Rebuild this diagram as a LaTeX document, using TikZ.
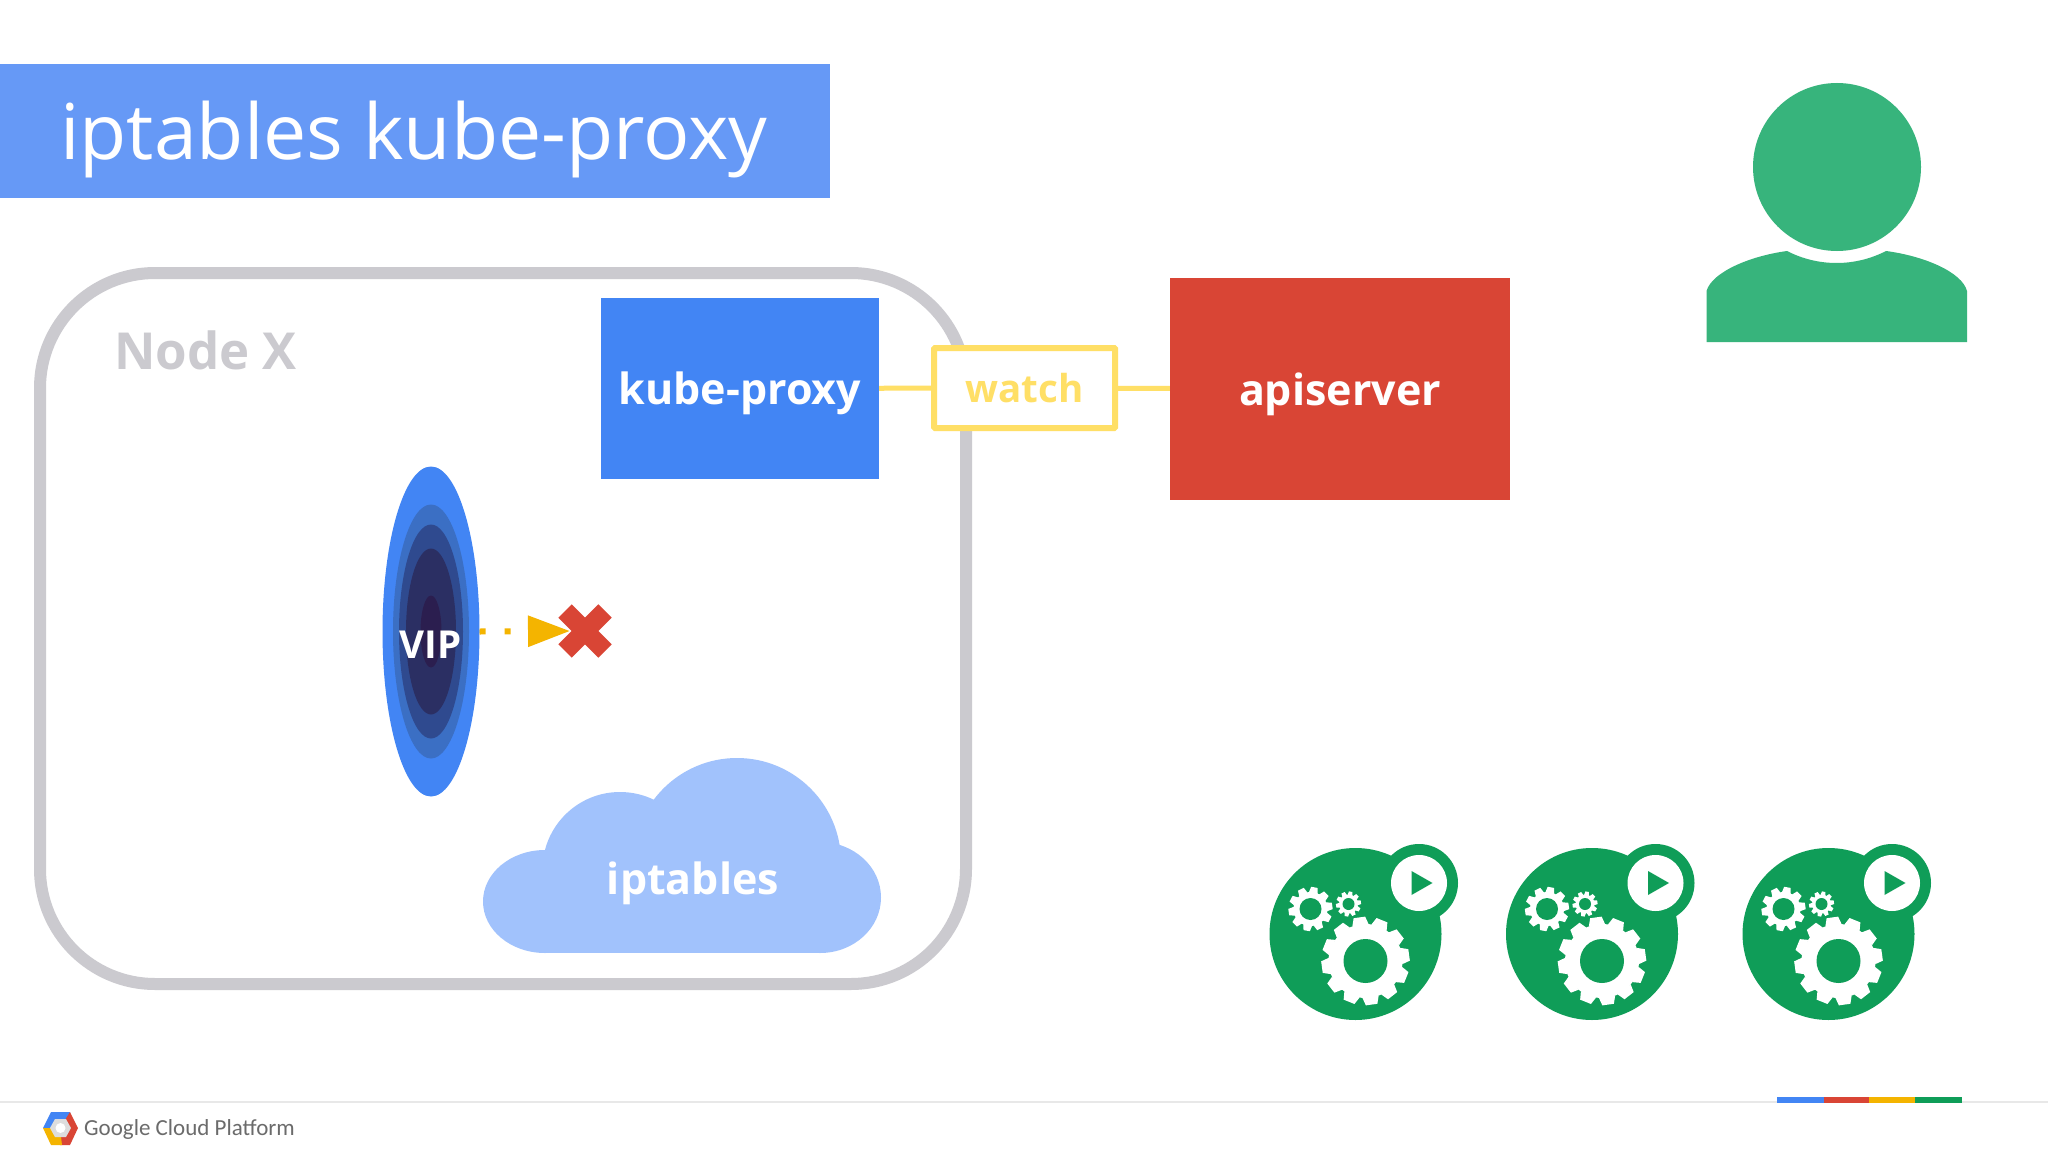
\documentclass[tikz,border=0pt]{standalone}
\usepackage{fontspec}
\setmainfont{Open Sans}
\newfontfamily\logofont{Carlito}
\usetikzlibrary{calc,shapes.geometric,arrows.meta}
\definecolor{gblue}{HTML}{4285F4}
\definecolor{gred}{HTML}{D94535}
\definecolor{gyellow}{HTML}{F4B400}
\definecolor{ggreen}{HTML}{0F9D58}
\definecolor{titleblue}{HTML}{6699F6}
\definecolor{cloudblue}{HTML}{A1C2FC}
\definecolor{watchyellow}{HTML}{FFDF66}
\definecolor{framegray}{HTML}{CBCACF}
\definecolor{usergreen}{HTML}{37B47C}
\definecolor{logogray}{HTML}{6B6B6B}
\definecolor{vipa}{HTML}{3B6FC4}
\definecolor{vipb}{HTML}{2F4A8F}
\definecolor{vipc}{HTML}{2B2F63}
\definecolor{vipd}{HTML}{2B1E4F}
\definecolor{footgray}{HTML}{E8E8E8}
\definecolor{logocore}{HTML}{DDDDDD}
\tikzset{
	box/.style={inner sep=0pt, text=white, text depth=0pt, font=\fontsize{43}{43}\selectfont\bfseries},
	hole/.style={ellipse, inner sep=0pt},
	watchline/.style={watchyellow, line width=5pt},
}
\def\gearwheel(#1,#2)(#3:#4:#5:#6){
	\fill[white] (#1,#2) circle (#4);
	\foreach \i in {1,...,#3}
		\fill[white,shift={(#1,#2)},rotate={\i*360/#3+8}]
		(#4-1,{-0.85*#4*3.14/#3}) -- (#5,{-0.6*#4*3.14/#3}) -- (#5,{0.6*#4*3.14/#3}) -- (#4-1,{0.85*#4*3.14/#3}) -- cycle;
	\fill[ggreen] (#1,#2) circle (#6);
}
\begin{document}
\begin{tikzpicture}[x=1pt,y=-1pt]
	\useasboundingbox (0,0) rectangle (2048,1153);
	\fill[white] (0,0) rectangle (2048,1153);

	%%%%%%%%%% title %%%%%%%%%%
	\node[box, fill=titleblue, minimum width=830pt, minimum height=134pt] (title) at (415,131) {};
	\node[anchor=west, inner sep=0pt, text=white, font=\fontsize{77}{77}\selectfont] (titletext) at (60,139) {iptables kube-proxy};

	%%%%%%%%%% node frame %%%%%%%%%%
	\node[draw=framegray, line width=12pt, rounded corners=115pt, minimum width=926pt, minimum height=711pt] (nodex) at (503,628.5) {};
	\node[anchor=west, inner sep=0pt, text=framegray, font=\fontsize{51}{51}\selectfont\bfseries] (nodexlabel) at (114,350) {Node X};

	%%%%%%%%%% boxes %%%%%%%%%%
	\node[box, fill=gblue, minimum width=278pt, minimum height=181pt] (kubeproxy) at (740,388.5) {kube-proxy};
	\node[box, fill=gred, minimum width=340pt, minimum height=222pt] (apiserver) at (1340,389) {apiserver};
	\node[draw=watchyellow, fill=white, line width=6pt, rounded corners=1pt, inner sep=0pt, minimum width=181pt, minimum height=80pt, text=watchyellow, font=\fontsize{38.5}{38.5}\selectfont\bfseries] (watch) at (1024.5,388) {watch};
	\draw[watchline] (kubeproxy) -- (watch);
	\draw[watchline] (watch) -- (apiserver);

	%%%%%%%%%% vip %%%%%%%%%%
	\node[hole, fill=gblue, minimum width=97pt, minimum height=330pt] (vip) at (431,631.5) {};
	\node[hole, fill=vipa, minimum width=76pt, minimum height=254pt] at (vip) {};
	\node[hole, fill=vipb, minimum width=64pt, minimum height=214pt] at (vip) {};
	\node[hole, fill=vipc, minimum width=50pt, minimum height=166pt] at (vip) {};
	\node[hole, fill=vipd, minimum width=21pt, minimum height=72pt] at (vip) {};
	\node[inner sep=0pt, text=white, font=\fontsize{38.5}{38.5}\selectfont\bfseries] (viplabel) at (430.5,645) {VIP};

	%%%%%%%%%% blocked path %%%%%%%%%%
	\coordinate (cross) at (585,631);
	\coordinate (tipend) at (570,631);
	\draw[gred, line width=19pt] ($(cross)+(-20,-20)$) -- ($(cross)+(20,20)$);
	\draw[gred, line width=19pt] ($(cross)+(-20,20)$) -- ($(cross)+(20,-20)$);
	\draw[gyellow, line width=6pt, dash pattern=on 6pt off 19pt, -{Triangle[length=42pt,width=30pt]}] (vip.east) -- (tipend);

	%%%%%%%%%% cloud %%%%%%%%%%
	\begin{scope}
		\clip (470,740) rectangle (900,930);
		\fill[cloudblue] (737,862) circle (104);
	\end{scope}
	\fill[cloudblue] (545,901.5) ellipse (62 and 51.5);
	\fill[cloudblue] (620,869.5) circle (77.5);
	\fill[cloudblue] (820,897.5) ellipse (61 and 55.5);
	\fill[cloudblue] (545,880) rectangle (820,953);
	\node[box] (iptables) at (693,878) {iptables};

	%%%%%%%%%% user %%%%%%%%%%
	\fill[usergreen] (1837,167) circle (84);
	\fill[usergreen] (1706.5,342) -- (1706.5,291) .. controls (1712,272) and (1750,256) .. (1787,251)
	.. controls (1818,267) and (1855,267) .. (1886,251)
	.. controls (1924,256) and (1962,272) .. (1967,291) -- (1967,342) -- cycle;

	%%%%%%%%%% gear icons %%%%%%%%%%
	\foreach \dx in {-0.5,236,472.5}{
		\begin{scope}[xshift=\dx pt]
			\fill[ggreen] (1356,934) circle (86);
			\fill[ggreen] (1419.5,883) circle (39);
			\fill[white] (1419.5,883) circle (28);
			\fill[ggreen] (1412,871) -- (1433,883) -- (1412,895) -- cycle;
			\gearwheel(1366,961)(12:37:44:22)
			\gearwheel(1311,909)(10:17:22:11)
			\gearwheel(1349,904)(10:9.5:12.5:6)
		\end{scope}
	}

	%%%%%%%%%% footer %%%%%%%%%%
	\draw[footgray, line width=2pt] (0,1102) -- (2048,1102);
	\fill[gblue] (1777,1097) rectangle (1824,1103);
	\fill[gred] (1824,1097) rectangle (1869,1103);
	\fill[gyellow] (1869,1097) rectangle (1915,1103);
	\fill[ggreen] (1915,1097) rectangle (1962,1103);

	%%%%%%%%%% logo %%%%%%%%%%
	\fill[gblue] (43,1128) -- (51,1112) -- (70,1112) -- (70,1120) -- (60,1128) -- cycle;
	\fill[gred] (70,1112) -- (78,1128) -- (70,1145) -- (60,1145) -- (60,1128) -- cycle;
	\fill[gyellow] (43,1128) -- (60,1128) -- (62,1145) -- (51,1145) -- cycle;
	\fill[logocore] (50,1128) -- (55,1119) -- (66,1119) -- (71,1128) -- (66,1137) -- (55,1137) -- cycle;
	\fill[white] (60.5,1128) circle (5);
	\node[anchor=west, inner sep=0pt, text=logogray, font=\fontsize{23}{23}\logofont] (gcp) at (84,1129) {Google Cloud Platform};
\end{tikzpicture}
\end{document}
